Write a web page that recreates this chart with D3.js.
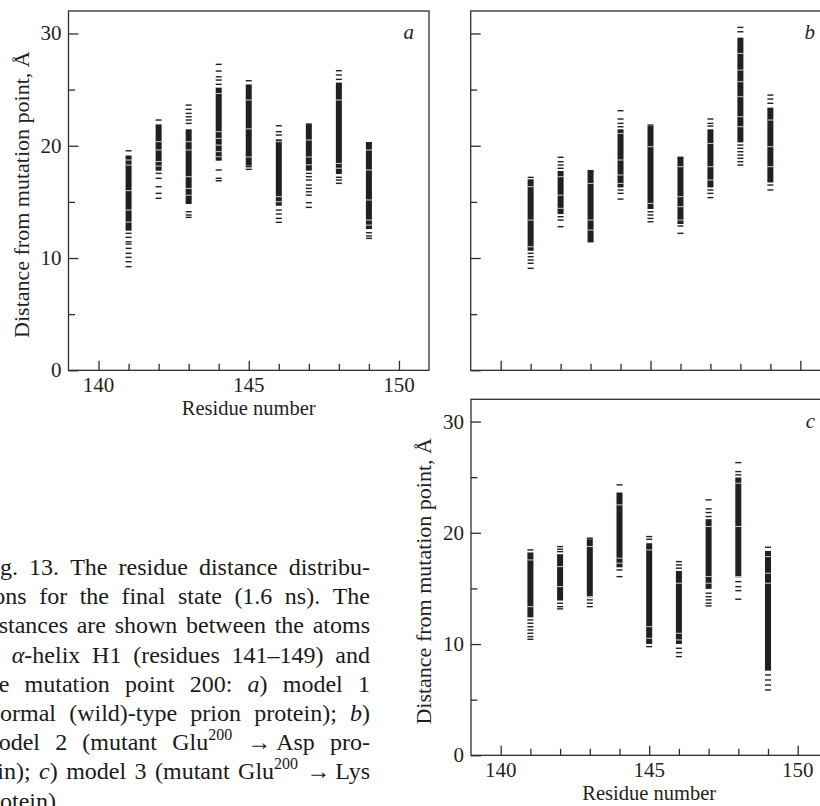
<!DOCTYPE html>
<html>
<head>
<meta charset="utf-8">
<script src="https://cdn.jsdelivr.net/npm/d3@7"></script>
<style>
  html, body { margin: 0; padding: 0; background: #fff; }
  svg { display: block; }
</style>
</head>
<body>
<script>
// Residues of alpha-helix H1
const residues = [141, 142, 143, 144, 145, 146, 147, 148, 149];

// Model 1: continuous (dense) distance ranges, isolated distance values
// and thin empty bands inside the dense ranges, Å
const denseA = [[12.5, 19.07], [17.84, 21.84], [14.87, 21.4], [18.73, 25.11], [18.28, 25.4],
                [14.72, 20.51], [17.84, 21.84], [17.54, 25.56], [12.64, 20.21]];
const dashesA = [
  [19.55, 12.2, 11.84, 11.45, 11.25, 10.86, 10.42, 10.06, 9.67, 9.23],
  [22.29, 17.54, 17.1, 16.35, 15.76, 15.32],
  [23.62, 23.24, 22.88, 22.58, 22.29, 21.99, 14.12, 13.83, 13.62],
  [27.25, 26.65, 26.14, 25.85, 25.47, 17.84, 17.1, 16.88],
  [25.79, 18.13, 17.9],
  [21.78, 21.25, 20.95, 14.27, 13.92, 13.53, 13.18],
  [21.93, 17.54, 17.24, 16.95, 16.5, 16.2, 15.9, 15.6, 14.93, 14.51],
  [26.68, 26.3, 25.91, 17.19, 16.95, 16.65],
  [20.27, 12.25, 11.96, 11.75]
];
const gapsA = [
  [18.73, 18.28, 16.0, 14.27, 13.2],
  [20.36, 19.62, 18.6, 18.19],
  [20.36, 19.62, 17.24, 16.2, 15.6],
  [24.66, 21.25, 20.66, 20.06, 19.47, 19.02],
  [24.07, 21.5, 19.0],
  [20.36, 15.46, 15.01],
  [20.51, 19.0, 18.3],
  [24.07, 18.43, 18.0],
  [19.62, 17.84, 15.17, 13.38, 12.93]
];

// Model 2 (Glu200 -> Asp)
const denseB = [[10.71, 16.95], [13.98, 17.69], [11.45, 17.69], [16.35, 21.4], [14.43, 21.69],
                [13.09, 18.88], [16.35, 21.4], [20.36, 29.56], [16.79, 23.33]];
const dashesB = [
  [17.18, 10.42, 10.12, 9.82, 9.53, 9.08],
  [18.97, 18.58, 18.28, 17.99, 13.68, 13.38, 12.79],
  [17.78],
  [23.12, 22.38, 21.99, 21.69, 16.06, 15.76, 15.25],
  [21.84, 14.12, 13.83, 13.53, 13.23],
  [18.97, 12.85, 12.2],
  [22.38, 21.99, 21.75, 16.06, 15.76, 15.38],
  [30.54, 30.15, 20.06, 19.77, 19.47, 19.17, 18.88, 18.58, 18.28],
  [24.51, 24.16, 23.78, 16.5, 16.06]
];
const gapsB = [
  [16.35, 13.38, 11.0],
  [17.24, 15.6, 14.43],
  [16.65, 13.38, 12.49],
  [21.1, 18.73, 17.39, 16.65],
  [19.91, 14.87],
  [18.13, 15.46, 14.57, 13.38],
  [20.21, 18.13, 16.95],
  [28.23, 26.74, 25.7, 24.36, 22.58, 21.69],
  [22.29, 19.91, 18.13]
];

// Model 3 (Glu200 -> Lys)
const denseC = [[12.46, 18.17], [13.97, 18.01], [14.26, 19.36], [16.96, 23.56], [10.07, 19.0],
                [10.07, 16.51], [15.02, 21.16], [16.06, 24.91], [7.67, 18.31]];
const dashesC = [
  [18.46, 12.17, 11.87, 11.56, 11.27, 10.97, 10.67, 10.43],
  [18.76, 18.53, 18.31, 13.67, 13.36, 13.16],
  [19.51, 13.97, 13.67, 13.36],
  [24.31, 16.66, 16.06],
  [19.66, 19.42, 9.77],
  [17.41, 17.11, 16.82, 9.62, 9.23, 8.87],
  [22.96, 22.15, 21.82, 21.46, 14.57, 14.26, 13.97, 13.67, 13.43],
  [26.31, 25.5, 25.21, 15.61, 15.16, 14.8, 14.03],
  [18.7, 7.22, 6.77, 6.32, 5.87]
];
const gapsC = [
  [17.56, 13.36],
  [16.96, 15.16],
  [18.76, 14.26],
  [22.51, 17.72, 17.27],
  [18.46, 11.56, 10.52],
  [15.47, 10.97, 10.37],
  [20.56, 16.06, 15.47],
  [24.46, 20.56, 16.06],
  [17.86, 16.37, 15.47]
];

// Axes
const xDomain = [139, 151];
const yDomain = [0, 32];
const xTicks = [140, 141, 142, 143, 144, 145, 146, 147, 148, 149, 150];
const xTickLabels = [140, 145, 150];
const yTicks = [0, 5, 10, 15, 20, 25, 30];
const yTickLabels = [0, 10, 20, 30];
const panelLetters = ["a", "b", "c"];
const xTitle = "Residue number";
const yTitle = "Distance from mutation point, Å";

// Caption, one entry per printed line; [text, style] segments
const captionLines = [
  [["Fig. 13. The residue distance distribu-"]],
  [["tions for the final state (1.6 ns).  The"]],
  [["distances are shown between the atoms"]],
  [["of "], ["α", "i"], ["-helix H1 (residues 141–149) and"]],
  [["the mutation point 200:  "], ["a", "i"], [") model 1"]],
  [["(normal (wild)-type prion protein); "], ["b", "i"], [")"]],
  [["model 2 (mutant Glu"], ["200", "sup"], [" →\u2009Asp pro-"]],
  [["tein); "], ["c", "i"], [") model 3 (mutant Glu"], ["200", "sup"], [" →\u2009Lys"]],
  [["protein)."]]
];

const W = 820, H = 806;
const INK = "#231f20";
const FRAME = "#2e2e2e";
const FONT = "'Liberation Serif', 'Times New Roman', serif";

const svg = d3.select("body").append("svg")
  .attr("width", W).attr("height", H)
  .attr("viewBox", `0 0 ${W} ${H}`);

function drawPanel(p) {
  const x = d3.scaleLinear().domain(xDomain).range([p.left, p.right]);
  const y = d3.scaleLinear().domain(yDomain).range([p.bottom, p.top]);
  const g = svg.append("g");

  // Frame
  g.append("rect")
    .attr("x", p.left).attr("y", p.top)
    .attr("width", p.right - p.left).attr("height", p.bottom - p.top)
    .attr("fill", "none").attr("stroke", FRAME).attr("stroke-width", 1.3);

  // Inward ticks, longer at labelled values
  const xAxis = d3.axisTop(x).tickValues(xTicks).tickFormat("").tickSizeOuter(0)
    .tickSize(6.5);
  const gx = g.append("g").attr("transform", `translate(0,${p.bottom})`).call(xAxis);
  gx.select(".domain").remove();
  gx.selectAll(".tick line")
    .attr("y2", d => xTickLabels.includes(d) ? -9.5 : -6.5)
    .attr("stroke", FRAME).attr("stroke-width", 1.3);

  const yAxis = d3.axisRight(y).tickValues(yTicks).tickFormat("").tickSizeOuter(0)
    .tickSize(6.5);
  const gy = g.append("g").attr("transform", `translate(${p.left},0)`).call(yAxis);
  gy.select(".domain").remove();
  gy.selectAll(".tick line")
    .attr("x2", d => yTickLabels.includes(d) ? 10 : 6.5)
    .attr("stroke", FRAME).attr("stroke-width", 1.3);

  if (p.yLabels) {
    g.selectAll(".ylab").data(yTickLabels).enter().append("text")
      .attr("x", p.left - 7).attr("y", d => y(d) + 7)
      .attr("text-anchor", "end")
      .attr("font-family", FONT).attr("font-size", 21).attr("fill", INK)
      .text(d => d);
    g.append("text")
      .attr("transform", `translate(${p.left - 40},${(p.top + p.bottom) / 2 + 4}) rotate(-90)`)
      .attr("text-anchor", "middle")
      .attr("font-family", FONT).attr("font-size", 22).attr("fill", INK)
      .text(yTitle);
  }
  if (p.xLabels) {
    g.selectAll(".xlab").data(xTickLabels).enter().append("text")
      .attr("x", d => x(d)).attr("y", p.bottom + 22)
      .attr("text-anchor", "middle")
      .attr("font-family", FONT).attr("font-size", 21).attr("fill", INK)
      .text(d => d);
    g.append("text")
      .attr("x", x(145)).attr("y", p.bottom + 45)
      .attr("text-anchor", "middle")
      .attr("font-family", FONT).attr("font-size", 20.5).attr("fill", INK)
      .text(xTitle);
  }

  // Panel letter
  g.append("text")
    .attr("x", p.letterX).attr("y", y(30) + 6)
    .attr("text-anchor", "end")
    .attr("font-family", FONT).attr("font-style", "italic")
    .attr("font-size", 21).attr("fill", INK)
    .text(p.letter);

  // Distance distributions: dense stretches, single dashes and empty bands per residue
  const half = 3, thick = 1.4;
  const cols = g.append("g");
  residues.forEach((r, i) => {
    const [lo, hi] = p.dense[i];
    cols.append("rect")
      .attr("fill", INK)
      .attr("x", x(r) - half).attr("width", half * 2)
      .attr("y", y(hi) - thick / 2).attr("height", y(lo) - y(hi) + thick);
    cols.selectAll(null).data(p.dashes[i]).enter().append("rect")
      .attr("fill", INK)
      .attr("x", x(r) - half).attr("width", half * 2)
      .attr("y", d => y(d) - thick / 2).attr("height", thick);
    cols.selectAll(null).data(p.gaps[i]).enter().append("rect")
      .attr("fill", "#fff").attr("opacity", 0.85)
      .attr("x", x(r) - half).attr("width", half * 2)
      .attr("y", d => y(d) - 0.45).attr("height", 0.9);
  });
}

drawPanel({ left: 68.5, right: 429, top: 11, bottom: 370.3,
            dense: denseA, dashes: dashesA, gaps: gapsA,
            yLabels: true, xLabels: true, letter: panelLetters[0], letterX: 414 });
drawPanel({ left: 470.7, right: 830.3, top: 11, bottom: 370.3,
            dense: denseB, dashes: dashesB, gaps: gapsB,
            yLabels: false, xLabels: false, letter: panelLetters[1], letterX: 815 });
drawPanel({ left: 471, right: 827.4, top: 399.3, bottom: 755.3,
            dense: denseC, dashes: dashesC, gaps: gapsC,
            yLabels: true, xLabels: true, letter: panelLetters[2], letterX: 815 });

// Justified caption block (the page continues past the left edge)
const capLeft = -20, capRight = 370, capTop = 575, capLead = 29.2, capSize = 24;
captionLines.forEach((segs, li) => {
  // split into words; each word keeps its styled pieces
  const words = [[]];
  segs.forEach(([txt, style]) => {
    const parts = txt.split(" ");
    parts.forEach((part, k) => {
      if (k > 0) words.push([]);
      if (part.length) words[words.length - 1].push([part, style]);
    });
  });
  const clean = words.filter(w => w.length);
  const baseY = capTop + li * capLead;
  const nodes = clean.map(w => {
    const t = svg.append("text")
      .attr("y", baseY)
      .attr("font-family", FONT).attr("font-size", capSize).attr("fill", "#1a1a1a");
    w.forEach(([txt, style]) => {
      const s = t.append("tspan").text(txt);
      if (style === "i") s.attr("font-style", "italic");
      if (style === "sup") s.attr("font-size", 16).attr("dy", -10);
    });
    return t;
  });
  const widths = nodes.map(n => n.node().getComputedTextLength());
  const total = d3.sum(widths);
  const last = li === captionLines.length - 1;
  const gap = (!last && nodes.length > 1)
    ? (capRight - capLeft - total) / (nodes.length - 1)
    : capSize * 0.25;
  let cx = capLeft;
  nodes.forEach((n, k) => {
    n.attr("x", cx);
    cx += widths[k] + gap;
  });
});
</script>
</body>
</html>
